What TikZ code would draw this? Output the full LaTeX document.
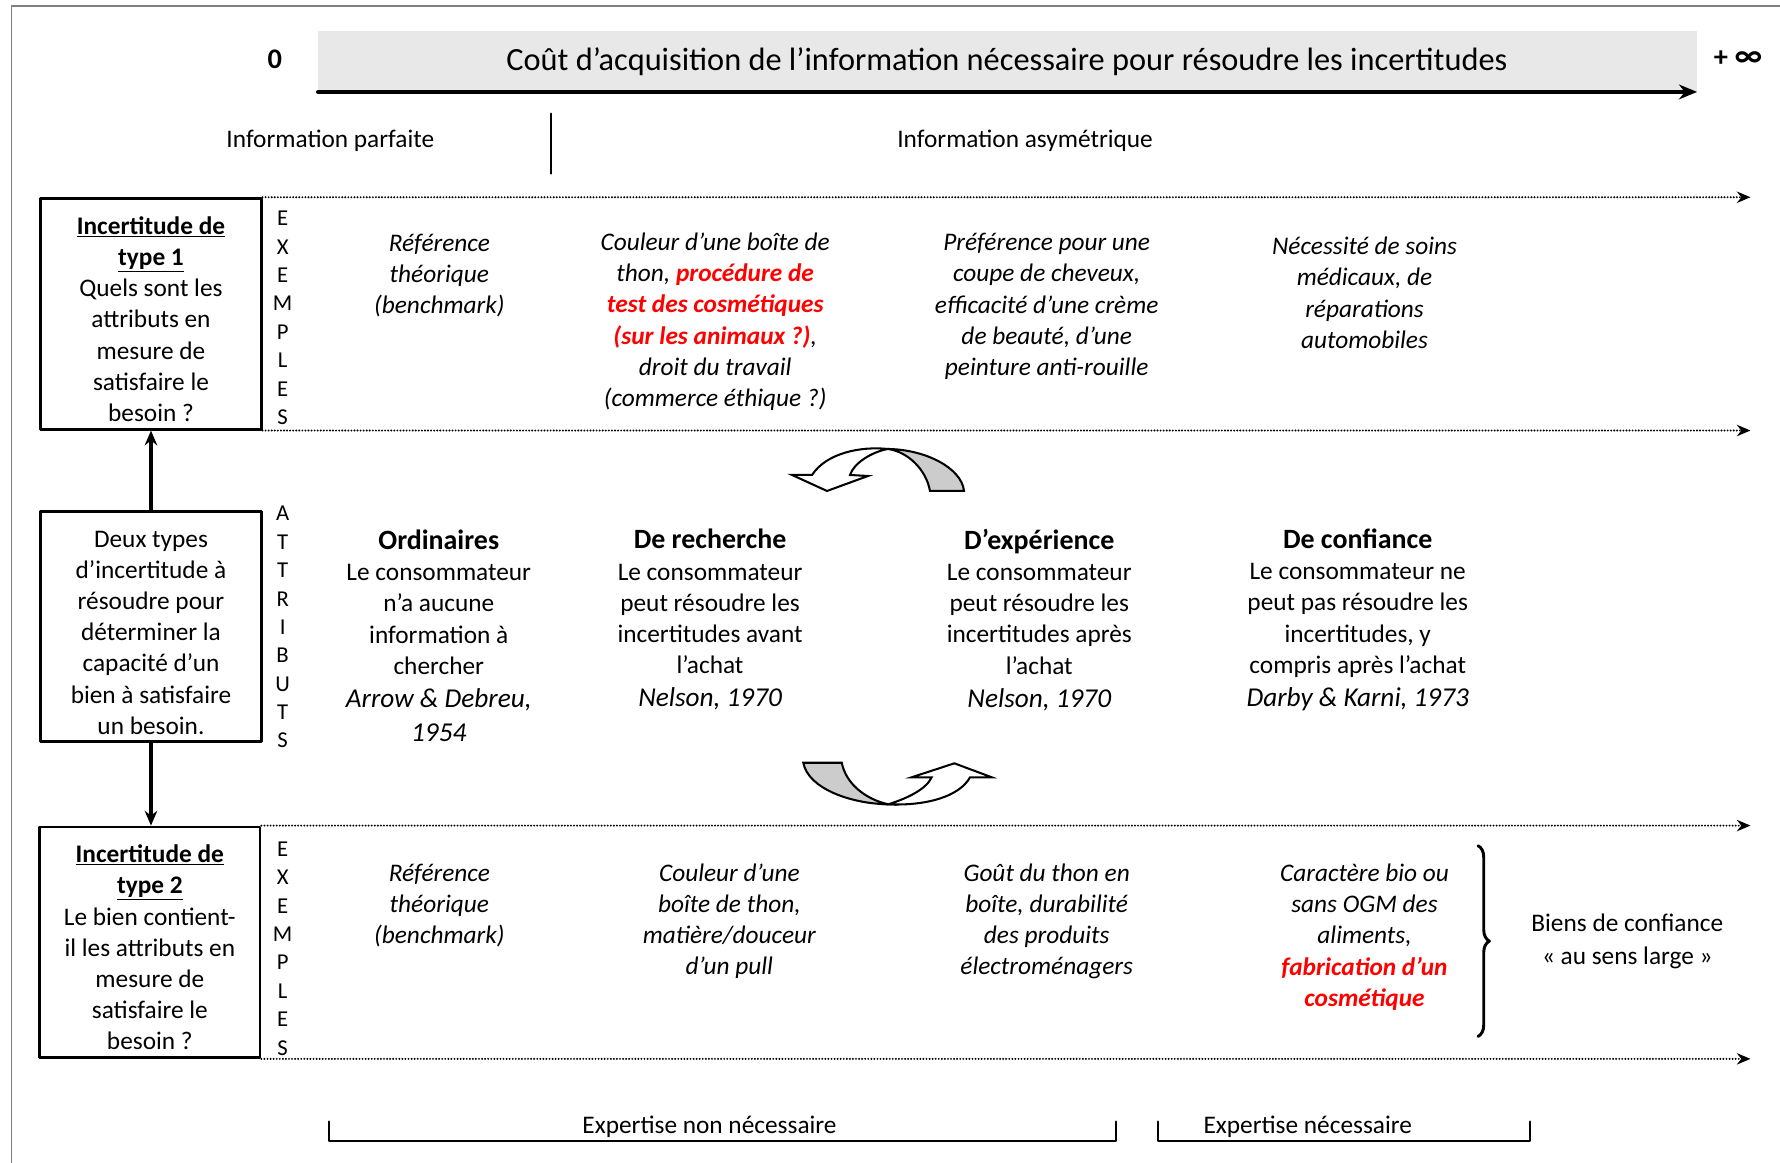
\documentclass[tikz,border=0pt]{standalone}
\usepackage{fontspec}
\setmainfont{Carlito}
\usetikzlibrary{arrows.meta,decorations.pathreplacing}
\newcommand{\redbf}[1]{\textcolor{red}{\bfseries #1}}
\newcommand{\head}[1]{{\fontsize{24.6}{27.5}\selectfont\bfseries #1}}
\newcommand{\authyear}[1]{{\fontsize{24}{27.5}\selectfont\itshape #1}}
\newcommand{\topstrut}{\rule{0pt}{25pt}}
\tikzset{
  txt/.style={align=center, inner sep=0pt, yshift=-2pt, font=\fontsize{22.3}{27.5}\selectfont},
  extxt/.style={txt, font=\fontsize{22.3}{27.5}\selectfont\itshape},
  qbox/.style={draw, line width=2.5, inner sep=0pt, minimum width=194, minimum height=203,
    align=center, font=\fontsize{22.3}{27.5}\selectfont},
  letters/.style={align=center, inner sep=0pt, font=\fontsize{20}{25}\selectfont},
  dotline/.style={line width=1.9, dash pattern=on 0pt off 2.7pt, -{Stealth[length=12,width=10]}},
  link/.style={line width=3.2, -{Stealth[length=13,width=11]}},
  turn/.style={line width=1.8, line join=miter},
}
\begin{document}
\begin{tikzpicture}[x=1pt, y=-1pt, line cap=round, line join=round]
    \def\xr{1542}
    \useasboundingbox (0,0) rectangle (1568,1024);
    \draw[black!50, line width=1.5] (10,1024) -- (10,5) -- (1568,5);
    \fill[black!9] (280,27) rectangle (1495,80);
    \draw[line width=3.2, -{Stealth[length=16,width=13]}] (280,81) -- (1495,81);
    \node[txt, font=\fontsize{25}{28}\selectfont\bfseries] (zero) at (242,50) {0};
    \node[txt, font=\fontsize{28.5}{34}\selectfont] (title) at (887,52) {Coût d’acquisition de l’information nécessaire pour résoudre les incertitudes};
    \node[txt, font=\fontsize{25}{28}\selectfont\bfseries] (inf) at (1531,50) {+ {\fontsize{29}{28}\selectfont ∞}};
    \node[txt] (ipar) at (291,122) {Information parfaite};
    \draw[line width=1.8] (485,100) -- (485,153);
    \node[txt] (iasy) at (903,122) {Information asymétrique};
    \node[qbox] (type1) at (133,276.5) {\topstrut\textbf{\underline{Incertitude de}}\\ \textbf{\underline{type 1}}\\ Quels sont les\\ attributs en\\ mesure de\\ satisfaire le\\ besoin ?};
    \node[qbox] (mid) at (133,552) {\topstrut Deux types\\ d’incertitude à\\ résoudre pour\\ déterminer la\\ capacité d’un\\ bien à satisfaire\\ un besoin.};
    \node[qbox] (type2) at (132,830) {\topstrut\textbf{\underline{Incertitude de}}\\ \textbf{\underline{type 2}}\\ Le bien contient-\\ il les attributs en\\ mesure de\\ satisfaire le\\ besoin ?};
    \draw[link] (mid.north) -- (type1.south);
    \draw[link] (mid.south) -- (type2.north -| mid.south);
    \coordinate (end) at (\xr,0);
    \draw[dotline] (type1.north east) -- (type1.north east -| end);
    \draw[dotline] (type1.south east) -- (type1.south east -| end);
    \draw[dotline] (type2.north east) -- (type2.north east -| end);
    \draw[dotline] (type2.south east) -- (type2.south east -| end);
    \node[letters] (ex1) at (249,280) {E\\X\\E\\M\\P\\L\\E\\S};
    \node[letters] (attr) at (249,552.5) {A\\T\\T\\R\\I\\B\\U\\T\\S};
    \node[letters] (ex2) at (249,835.5) {E\\X\\E\\M\\P\\L\\E\\S};
    \node[extxt] (e11) at (387,240.5) {Référence\\ théorique\\ (benchmark)};
    \node[extxt] (e12) at (630,281.5) {Couleur d’une boîte de\\ thon, \redbf{procédure de}\\ \redbf{test des cosmétiques}\\ \redbf{(sur les animaux ?)},\\ droit du travail\\ (commerce éthique ?)};
    \node[extxt] (e13) at (922,268) {Préférence pour une\\ coupe de cheveux,\\ efficacité d’une crème\\ de beauté, d’une\\ peinture anti-rouille};
    \node[extxt] (e14) at (1202,256) {Nécessité de soins\\ médicaux, de\\ réparations\\ automobiles};
    \filldraw[turn, fill=white] (715.3,418.4) .. controls (728,399) and (758,393) .. (782.2,395.5)
      .. controls (768,398) and (752,408) .. (748.8,418.4) -- (764.6,419.3) -- (728.5,432.5)
      -- (697.7,418.4) -- cycle;
    \filldraw[turn, fill=black!20] (782.2,395.5) .. controls (815,396) and (847,412) .. (849.2,432.5)
      -- (819.2,432.5) .. controls (816,414) and (800,398) .. (782.2,395.5) -- cycle;
    \node[txt] (a1) at (386.5,558) {\head{Ordinaires}\\ Le consommateur\\ n’a aucune\\ information à\\ chercher\\[1.5pt] \authyear{Arrow \& Debreu,}\\[2.5pt] \authyear{1954}};
    \node[txt] (a2) at (625.5,544) {\head{De recherche}\\ Le consommateur\\ peut résoudre les\\ incertitudes avant\\ l’achat\\[1.5pt] \authyear{Nelson, 1970}};
    \node[txt] (a3) at (915.5,544) {\head{D’expérience}\\ Le consommateur\\ peut résoudre les\\ incertitudes après\\ l’achat\\[1.5pt] \authyear{Nelson, 1970}};
    \node[txt] (a4) at (1196,544) {\head{De confiance}\\ Le consommateur ne\\ peut pas résoudre les\\ incertitudes, y\\ compris après l’achat\\[1.5pt] \authyear{Darby \& Karni, 1973}};
    \filldraw[turn, fill=black!20] (707.6,671.9) -- (741.5,671.9) .. controls (745,690) and (762,704) .. (782.5,708.5)
      .. controls (750,708) and (712,695) .. (707.6,671.9) -- cycle;
    \filldraw[turn, fill=white] (782.5,708.5) .. controls (800,703) and (816,695) .. (820.7,684.7)
      -- (803.1,684.7) -- (840.7,672.4) -- (873.6,684.7) -- (854.5,684.7)
      .. controls (845,702) and (815,710) .. (782.5,708.5) -- cycle;
    \node[extxt] (e21) at (387,795.5) {Référence\\ théorique\\ (benchmark)};
    \node[extxt] (e22) at (642.5,809.5) {Couleur d’une\\ boîte de thon,\\ matière/douceur\\ d’un pull};
    \node[extxt] (e23) at (922,809.5) {Goût du thon en\\ boîte, durabilité\\ des produits\\ électroménagers};
    \node[extxt] (e24) at (1202,823.5) {Caractère bio ou\\ sans OGM des\\ aliments,\\ \redbf{fabrication d’un}\\ \redbf{cosmétique}};
    \draw[line width=2.6, decorate, decoration={brace, amplitude=10}] (1302,745) -- (1302,913);
    \node[txt] (broad) at (1433.5,827.5) {Biens de confiance\\[1.5pt] « au sens large »};
    \draw[line width=2] (290,988) -- (290,1005) -- (983,1005) -- (983,988);
    \node[txt] (noexp) at (625,991) {Expertise non nécessaire};
    \draw[line width=2] (1020,988) -- (1020,1005) -- (1348,1005) -- (1348,988);
    \node[txt] (yesexp) at (1152,991) {Expertise nécessaire};
\end{tikzpicture}
\end{document}
